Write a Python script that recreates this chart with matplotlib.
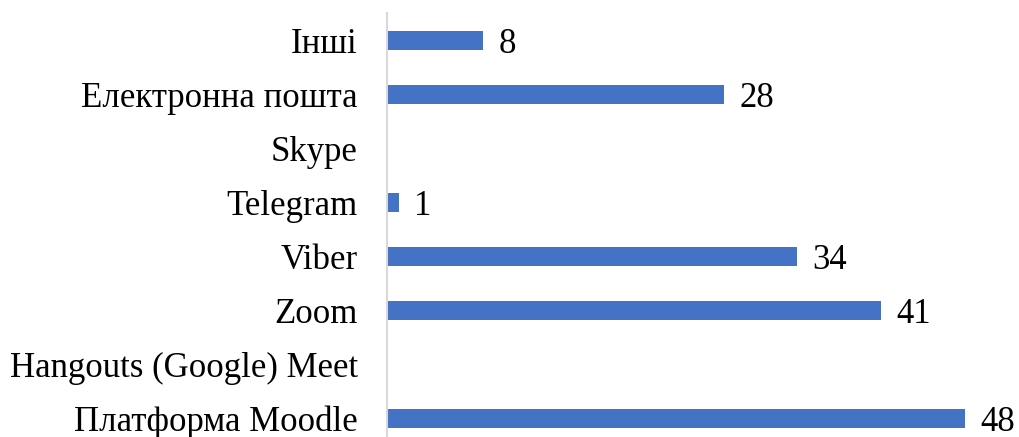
import matplotlib.pyplot as plt

# categories top to bottom
labels = ['Інші', 'Електронна пошта', 'Skype', 'Telegram', 'Viber', 'Zoom',
          'Hangouts (Google) Meet', 'Платформа Moodle']
values = [8, 28, 0, 1, 34, 41, 0, 48]

plt.rcParams['font.family'] = ['Liberation Serif', 'DejaVu Serif']

fig = plt.figure(figsize=(10.19, 4.37), dpi=100)
ax = fig.add_axes([0.3798, -0.0197, 0.6202, 0.9899])

y = list(range(len(labels)))[::-1]
bars = ax.barh(y, values, height=0.35, color='#4472C4')
for yi, v in zip(y, values):
    if v > 0:
        ax.annotate(str(v), (v, yi), xytext=(11, 0), textcoords='offset points',
                    va='center_baseline', ha='left', fontsize=25)

ax.set_yticks(y)
ax.set_yticklabels(labels, fontsize=25)
for t in ax.get_yticklabels():
    t.set_va('center_baseline')
ax.tick_params(axis='y', length=0, pad=21)
ax.set_xticks([])
ax.set_ylim(-0.5, len(labels) - 0.5)
ax.set_xlim(0, 1019 * 0.6202 / 12.05)
for s in ['top', 'right', 'bottom']:
    ax.spines[s].set_visible(False)
ax.spines['left'].set_color('#d9d9d9')
ax.spines['left'].set_linewidth(1.5)

fig.savefig('out.png', dpi=100)
